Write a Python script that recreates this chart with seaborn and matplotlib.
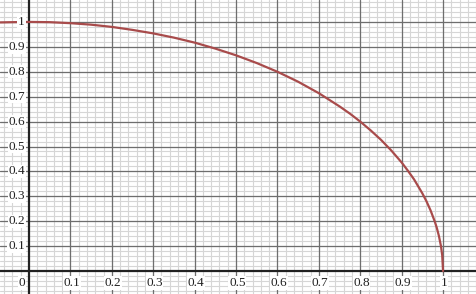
import numpy as np
import pandas as pd
import matplotlib
matplotlib.use("Agg")
import matplotlib.pyplot as plt
import seaborn as sns

# Curve values
curve_x = [-0.07, -0.04, 0.0, 0.05, 0.1, 0.15, 0.2, 0.25, 0.3, 0.35, 0.4, 0.45,
           0.5, 0.55, 0.6, 0.65, 0.7, 0.75, 0.775, 0.8, 0.825, 0.85, 0.875, 0.9,
           0.915, 0.93, 0.95, 0.96, 0.97, 0.98, 0.985, 0.99, 0.995, 0.998, 1.0]
curve_y = [0.998, 0.999, 1.0, 0.999, 0.995, 0.989, 0.980, 0.968, 0.954, 0.937,
           0.917, 0.893, 0.866, 0.835, 0.800, 0.760, 0.714, 0.661, 0.632, 0.600,
           0.565, 0.527, 0.484, 0.436, 0.403, 0.368, 0.312, 0.280, 0.243, 0.199,
           0.173, 0.141, 0.100, 0.063, 0.0]

x_ticks = [0.1, 0.2, 0.3, 0.4, 0.5, 0.6, 0.7, 0.8, 0.9, 1.0]
x_tick_labels = ["0.1", "0.2", "0.3", "0.4", "0.5", "0.6", "0.7", "0.8", "0.9", "1"]
y_ticks = [0.1, 0.2, 0.3, 0.4, 0.5, 0.6, 0.7, 0.8, 0.9, 1.0]
y_tick_labels = ["0.1", "0.2", "0.3", "0.4", "0.5", "0.6", "0.7", "0.8", "0.9", "1"]

sns.set_theme(style="white")
plt.rcParams["font.family"] = ["Liberation Serif", "DejaVu Serif"]

fig = plt.figure(figsize=(4.77, 2.94), dpi=100)
ax = fig.add_axes([0, 0, 1, 1])
xmin, xmax = -0.070, 1.082
ymin, ymax = -0.092, 1.088
ax.set_xlim(xmin, xmax)
ax.set_ylim(ymin, ymax)

# minor grid
for v in np.arange(-0.06, 1.09, 0.02):
    ax.axvline(v, color="#d6d6d6", lw=0.8, zorder=0)
for v in np.arange(-0.08, 1.09, 0.02):
    ax.axhline(v, color="#d6d6d6", lw=0.8, zorder=0)
# major grid
for v in np.arange(0.1, 1.09, 0.1):
    ax.axvline(v, color="#6e6e6e", lw=0.9, zorder=1)
    ax.axhline(v, color="#6e6e6e", lw=0.9, zorder=1)
ax.axvline(0, color="#222222", lw=1.6, zorder=2)
ax.axhline(0, color="#222222", lw=1.6, zorder=2)

df = pd.DataFrame({"x": curve_x, "y": curve_y})
sns.lineplot(data=df, x="x", y="y", sort=False, estimator=None, ax=ax,
             color="#a84b4b", lw=1.6, zorder=3)

fs = 9.5
box = dict(facecolor="white", edgecolor="none", pad=0.5)
for v, lab in zip(y_ticks, y_tick_labels):
    ax.text(-0.010, v, lab, ha="right", va="center", fontsize=fs,
            color="#222222", bbox=box, zorder=4)
for v, lab in zip(x_ticks, x_tick_labels):
    ax.text(v + 0.003, -0.024, lab, ha="center", va="top", fontsize=fs,
            color="#222222", bbox=box, zorder=4)
ax.text(-0.010, -0.024, "0", ha="right", va="top", fontsize=fs,
        color="#222222", bbox=box, zorder=4)

for s in ax.spines.values():
    s.set_visible(False)
ax.set_xticks([])
ax.set_yticks([])
ax.set_xlabel("")
ax.set_ylabel("")
fig.savefig("out.png", dpi=100)
